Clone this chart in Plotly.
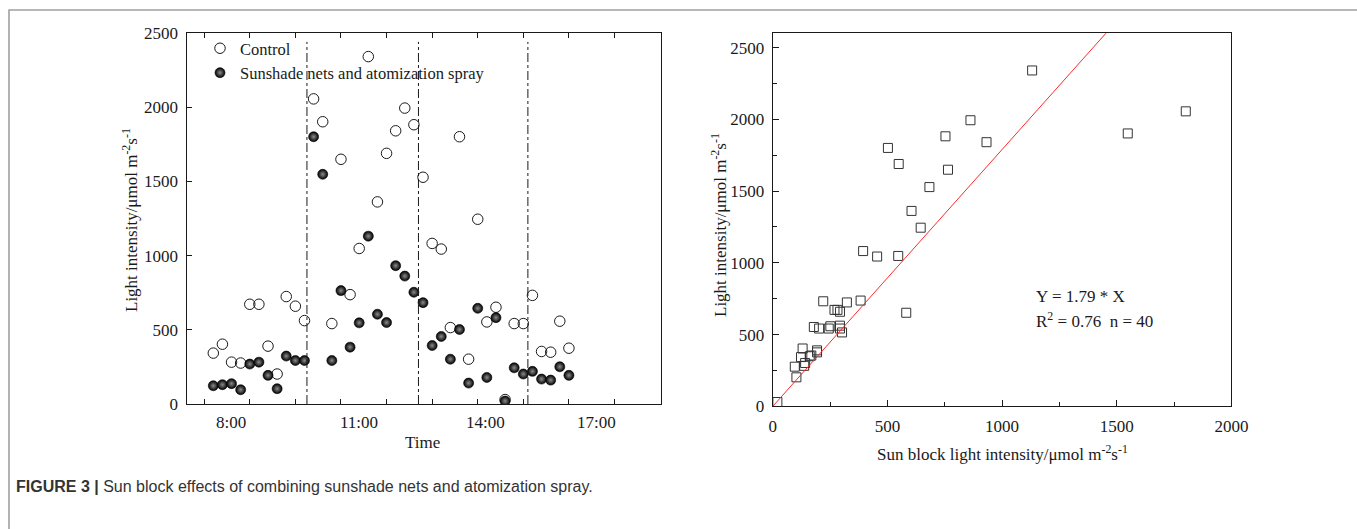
import plotly.graph_objects as go

W, H = 1357, 529

# Forty readings per series, in measurement order
sample_no = list(range(1, 41))
control = [343, 403, 282, 276, 672, 672, 390, 202, 724, 659,
           562, 2056, 1902, 542, 1649, 737, 1048, 2341, 1362, 1689,
           1841, 1994, 1882, 1528, 1082, 1044, 515, 1801, 302, 1245,
           553, 652, 30, 542, 542, 732, 354, 349, 558, 376]
treated = [123, 130, 137, 96, 269, 282, 193, 103, 323, 293,
           293, 1801, 1548, 293, 764, 383, 547, 1131, 605, 549,
           932, 862, 753, 683, 394, 455, 302, 502, 141, 645,
           179, 582, 20, 244, 202, 220, 168, 161, 251, 193]

# Time labels along the sample axis and the day separators
time_label_pos = [2.9, 16.97, 30.8, 43.0]
time_labels = ["8:00", "11:00", "14:00", "17:00"]
day_breaks = [11.27, 23.5, 35.5]

# Regression through the origin
slope = 1.79
r_squared = 0.76
fit_x = [0, 2000]

SERIF = "Liberation Serif, Times New Roman, serif"
INK = "#1a1a1a"

def px_x(p):
    return p / W

def px_y(p):
    return 1 - p / H

fig = go.Figure()

fig.add_trace(go.Scatter(
    x=sample_no, y=control, mode="markers", name="Control",
    marker=dict(symbol="circle-open", size=10.5, color=INK, line=dict(width=1)),
    xaxis="x", yaxis="y"))
fig.add_trace(go.Scatter(
    x=sample_no, y=treated, mode="markers", name="Sunshade nets and atomization spray",
    marker=dict(symbol="circle", size=10, color="#000000",
                gradient=dict(type="radial", color="#8c8c8c"),
                line=dict(width=0.6, color="#000000")),
    xaxis="x", yaxis="y"))

fig.add_trace(go.Scatter(
    x=treated, y=control, mode="markers", showlegend=False,
    marker=dict(symbol="square-open", size=9, color="#333333", line=dict(width=1)),
    xaxis="x2", yaxis="y2"))
fig.add_trace(go.Scatter(
    x=fit_x, y=[slope * v for v in fit_x], mode="lines", showlegend=False,
    line=dict(color="#ff2a2a", width=1),
    xaxis="x2", yaxis="y2"))

# Day separators on the time plot
for xb in day_breaks:
    fig.add_shape(type="line", xref="x", yref="y", x0=xb, x1=xb, y0=0, y1=2440,
                  line=dict(color=INK, width=1, dash="dashdot"))

# Outer figure border
fig.add_shape(type="rect", xref="paper", yref="paper",
              x0=px_x(9), x1=px_x(W + 5), y0=px_y(10), y1=px_y(H + 5),
              line=dict(color="#a0a0a0", width=1.6))

tickfont = dict(family=SERIF, size=17, color=INK)
axis_common = dict(showgrid=False, zeroline=False, showline=True, linecolor=INK,
                   linewidth=1.3, ticks="inside", tickcolor=INK, tickfont=tickfont,
                   automargin=False)

left_dom = [px_x(186.5), px_x(661)]
left_ydom = [px_y(404), px_y(33)]
right_dom = [px_x(772.8), px_x(1231.4)]
right_ydom = [px_y(406.3), px_y(33.3)]

fig.update_layout(
    width=W, height=H, autosize=False,
    margin=dict(l=0, r=0, t=0, b=0, pad=0, autoexpand=False),
    paper_bgcolor="white", plot_bgcolor="white",
    xaxis=dict(axis_common, domain=left_dom, range=[-1.94, 50.1],
               tickvals=list(range(0, 51, 5)), showticklabels=False,
               ticklen=5, mirror="ticks"),
    yaxis=dict(axis_common, domain=left_ydom, range=[0, 2500],
               tickvals=[0, 500, 1000, 1500, 2000, 2500], ticklen=5,
               mirror=True, ticklabelstandoff=4),
    xaxis2=dict(axis_common, domain=right_dom, anchor="y2", range=[0, 2000],
                tickvals=[0, 500, 1000, 1500, 2000], ticklen=6, mirror=True,
                minor=dict(tickvals=[250, 750, 1250, 1750], ticks="inside",
                           ticklen=4, tickcolor=INK),
                ticklabelstandoff=4),
    yaxis2=dict(axis_common, domain=right_ydom, anchor="x2", range=[0, 2600],
                tickvals=[0, 500, 1000, 1500, 2000, 2500], ticklen=6, mirror=True,
                minor=dict(tickvals=[250, 750, 1250, 1750, 2250], ticks="inside",
                           ticklen=4, tickcolor=INK),
                ticklabelstandoff=4),
    legend=dict(x=px_x(200), y=px_y(31), xanchor="left", yanchor="top",
                bgcolor="rgba(0,0,0,0)", font=dict(family=SERIF, size=16.5, color=INK),
                itemsizing="trace", tracegroupgap=0),
    showlegend=True,
)

# Clock-time labels under the sample axis
for pos, lab in zip(time_label_pos, time_labels):
    fig.add_annotation(xref="x", yref="paper", x=pos, y=px_y(422), text=lab,
                       xanchor="center", yanchor="middle", showarrow=False, font=tickfont)

unit = "μmol m<sup>-2</sup>s<sup>-1</sup>"
notes = [
    dict(x=px_x(130), y=px_y(220), text="Light intensity/" + unit, textangle=-90,
         font=dict(family=SERIF, size=17, color=INK)),
    dict(x=px_x(422), y=px_y(442), text="Time", font=dict(family=SERIF, size=17, color=INK)),
    dict(x=px_x(719), y=px_y(225), text="Light intensity/" + unit, textangle=-90,
         font=dict(family=SERIF, size=17, color=INK)),
    dict(x=px_x(1003), y=px_y(453), text="Sun block light intensity/" + unit,
         font=dict(family=SERIF, size=17, color=INK)),
    dict(x=px_x(1034), y=px_y(296), xanchor="left", text=f"Y = {slope} * X",
         font=dict(family=SERIF, size=17, color=INK)),
    dict(x=px_x(1034), y=px_y(320), xanchor="left",
         text=f"R<sup>2</sup> = {r_squared}  n = {len(control)}",
         font=dict(family=SERIF, size=17, color=INK)),
    dict(x=px_x(14), y=px_y(486), xanchor="left",
         text="<b>FIGURE 3 |</b> Sun block effects of combining sunshade nets and atomization spray.",
         font=dict(family="Liberation Sans, Arial, sans-serif", size=16, color="#333333")),
]
for n in notes:
    n.setdefault("xanchor", "center")
    fig.add_annotation(xref="paper", yref="paper", yanchor="middle", showarrow=False, **n)

fig.write_html("out.html")
